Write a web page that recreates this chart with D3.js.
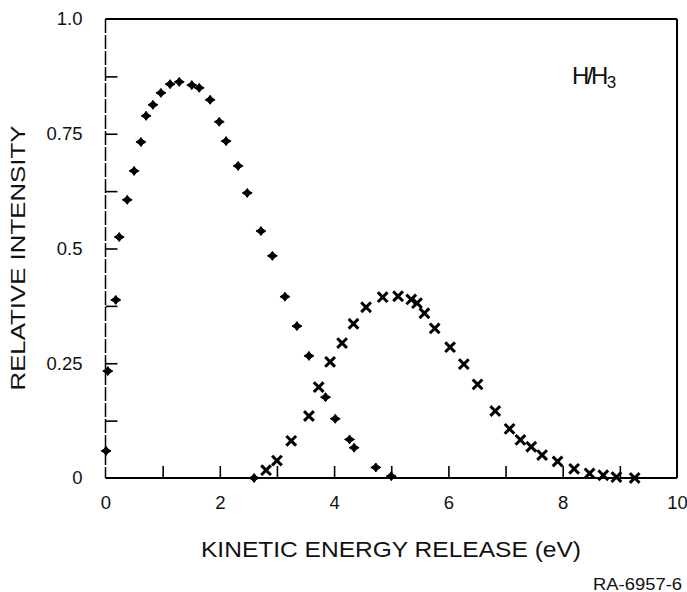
<!DOCTYPE html>
<html>
<head>
<meta charset="utf-8">
<script src="https://cdn.jsdelivr.net/npm/d3@7"></script>
<style>
    body { margin: 0; background: #fff; }
    svg { display: block; font-family: "Liberation Sans", Arial, Helvetica, sans-serif; }
    .frame { fill: none; stroke: #000; }
    .axis path { display: none; }
    .axis line { stroke: #000; stroke-width: 1.6; }
    .axis text { font-size: 18.5px; fill: #111; }
</style>
</head>
<body>
<div id="chart"></div>
<script>
// H fragments from H3 dissociation (diamonds) and second channel (crosses)
var diamondX = [0.01, 0.04, 0.18, 0.24, 0.38, 0.50, 0.62, 0.71, 0.83, 0.97, 1.13, 1.29, 1.51, 1.64, 1.83, 1.99, 2.11, 2.32, 2.48, 2.60, 2.72, 2.92, 3.14, 3.35, 3.56, 3.85, 4.02, 4.27, 4.35, 4.73, 5.00];
var diamondY = [0.059, 0.233, 0.388, 0.525, 0.606, 0.669, 0.732, 0.789, 0.813, 0.839, 0.858, 0.863, 0.856, 0.850, 0.824, 0.776, 0.734, 0.680, 0.621, 0.0, 0.538, 0.484, 0.395, 0.331, 0.266, 0.176, 0.129, 0.084, 0.066, 0.023, 0.004];

var crossX = [2.81, 3.00, 3.25, 3.56, 3.73, 3.93, 4.14, 4.34, 4.56, 4.85, 5.12, 5.35, 5.45, 5.58, 5.76, 6.03, 6.27, 6.51, 6.82, 7.07, 7.26, 7.45, 7.64, 7.91, 8.20, 8.47, 8.71, 8.94, 9.26];
var crossY = [0.017, 0.038, 0.081, 0.135, 0.198, 0.253, 0.294, 0.336, 0.372, 0.394, 0.396, 0.389, 0.381, 0.359, 0.326, 0.285, 0.248, 0.204, 0.146, 0.107, 0.083, 0.068, 0.050, 0.036, 0.020, 0.010, 0.006, 0.002, 0.0];

var xLabelTicks = [0, 2, 4, 6, 8, 10];
var xMinorTicks = [1, 2, 3, 4, 5, 6, 7, 8, 9];
var yLabelTicks = [0, 0.25, 0.5, 0.75, 1.0];
var yLabelText = ["0", "0.25", "0.5", "0.75", "1.0"];
var yMinorTicks = [0.125, 0.25, 0.375, 0.5, 0.625, 0.75, 0.875];

var dim = {
    width: 687,
    height: 592,
    margin: { top: 19, right: 10, bottom: 114, left: 105.5 }
};
dim.plot = {
    width: dim.width - dim.margin.left - dim.margin.right,
    height: dim.height - dim.margin.top - dim.margin.bottom
};

var x = d3.scaleLinear().domain([0, 10]).range([0, dim.plot.width]);
var y = d3.scaleLinear().domain([0, 1]).range([dim.plot.height, 0]);

var svg = d3.select("#chart").append("svg")
    .attr("width", dim.width)
    .attr("height", dim.height);

var g = svg.append("g")
    .attr("transform", "translate(" + dim.margin.left + "," + dim.margin.top + ")");

// inward ticks, no labels
g.append("g")
    .attr("class", "axis")
    .call(d3.axisLeft(y).tickValues(yMinorTicks).tickSize(-12).tickFormat(""));

g.append("g")
    .attr("class", "axis")
    .attr("transform", "translate(0," + dim.plot.height + ")")
    .call(d3.axisBottom(x).tickValues(xMinorTicks).tickSize(-12).tickFormat(""));

// tick labels
g.append("g")
    .attr("class", "axis")
    .attr("transform", "translate(0," + dim.plot.height + ")")
    .call(d3.axisBottom(x).tickValues(xLabelTicks).tickSize(0).tickPadding(18).tickFormat(d3.format("d")));

g.append("g")
    .attr("class", "axis")
    .attr("transform", "translate(-23,0)")
    .call(d3.axisLeft(y).tickValues(yLabelTicks).tickSize(0).tickPadding(0)
        .tickFormat(function(d, i) { return yLabelText[i]; }));

// frame (left side is a worn, broken line in the original)
g.append("line").attr("class", "frame").attr("stroke-width", 1.5)
    .attr("stroke-dasharray", "14,2")
    .attr("x1", x(0)).attr("x2", x(0)).attr("y1", y(1)).attr("y2", y(0));
g.append("line").attr("class", "frame").attr("stroke-width", 2.2)
    .attr("x1", x(0)).attr("x2", x(10)).attr("y1", y(0)).attr("y2", y(0));
g.append("line").attr("class", "frame").attr("stroke-width", 2)
    .attr("x1", x(0)).attr("x2", x(10)).attr("y1", y(1)).attr("y2", y(1));
g.append("line").attr("class", "frame").attr("stroke-width", 2)
    .attr("x1", x(10)).attr("x2", x(10)).attr("y1", y(1)).attr("y2", y(0));

// four-point star marker
function starPath(r) {
    var k = r * 0.42;
    return "M0," + (-r) + "L" + k + "," + (-k) + "L" + (r + 0.5) + ",0L" + k + "," + k +
        "L0," + r + "L" + (-k) + "," + k + "L" + (-r - 0.5) + ",0L" + (-k) + "," + (-k) + "Z";
}

var diamonds = diamondX.map(function(d, i) { return { x: d, y: diamondY[i] }; });
var crosses = crossX.map(function(d, i) { return { x: d, y: crossY[i] }; });

g.append("g").selectAll("path").data(diamonds).enter()
    .append("path")
    .attr("transform", function(d) { return "translate(" + x(d.x) + "," + y(d.y) + ")"; })
    .attr("d", starPath(4.5))
    .attr("fill", "#000")
    .attr("stroke", "#000")
    .attr("stroke-width", 1);

g.append("g").selectAll("path").data(crosses).enter()
    .append("path")
    .attr("transform", function(d) { return "translate(" + x(d.x) + "," + y(d.y) + ")"; })
    .attr("d", "M-3.8,-3.8L3.8,3.8M3.8,-3.8L-3.8,3.8")
    .attr("fill", "none")
    .attr("stroke", "#000")
    .attr("stroke-width", 3)
    .attr("stroke-linecap", "square");

// labels
svg.append("text")
    .attr("x", 391)
    .attr("y", 557)
    .attr("text-anchor", "middle")
    .attr("font-size", 22)
    .attr("textLength", 380)
    .attr("lengthAdjust", "spacingAndGlyphs")
    .attr("fill", "#111")
    .text("KINETIC  ENERGY  RELEASE  (eV)");

svg.append("text")
    .attr("transform", "translate(25,258) rotate(-90)")
    .attr("text-anchor", "middle")
    .attr("font-size", 21)
    .attr("textLength", 265)
    .attr("lengthAdjust", "spacingAndGlyphs")
    .attr("fill", "#111")
    .text("RELATIVE  INTENSITY");

var tag = svg.append("text")
    .attr("x", 572)
    .attr("y", 84)
    .attr("font-size", 24)
    .attr("fill", "#111");
tag.append("tspan").attr("letter-spacing", -2.5).text("H/H");
tag.append("tspan").attr("font-size", 17).attr("dx", 1).attr("dy", 4).text("3");

svg.append("text")
    .attr("x", 682)
    .attr("y", 590)
    .attr("text-anchor", "end")
    .attr("font-size", 16)
    .attr("textLength", 89)
    .attr("lengthAdjust", "spacingAndGlyphs")
    .attr("fill", "#111")
    .text("RA-6957-6");
</script>
</body>
</html>
